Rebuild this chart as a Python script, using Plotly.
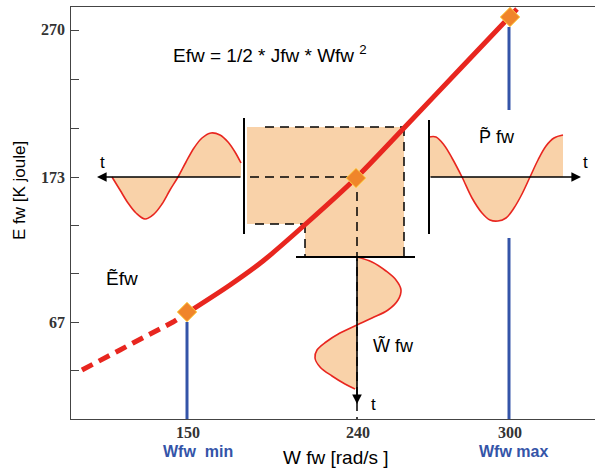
import plotly.graph_objects as go

# ---- schematic coordinates (x: horizontal position, y: vertical position, y axis reversed) ----
X0, X1 = 71, 595      # x-axis range
Y0, Y1 = 419, 7       # y-axis range (reversed)

# axis ticks
y_tick_pos = [30, 79, 128, 177, 225, 273, 322, 370]
y_tick_lab = ["270", "", "", "173", "", "", "67", ""]
x_tick_pos = [187, 357, 509]
x_tick_lab = ["150", "240", "300"]

# main energy curve  E = 1/2 J W^2
curve_dash_x = [82, 100, 120, 133, 150, 173, 187]
curve_dash_y = [370, 361, 350, 343, 334, 322, 313]
curve_x = [187, 230, 263, 308, 356, 404, 460, 517]
curve_y = [313, 285, 261, 222, 178, 128, 69, 9]

# operating points
pts_x = [187, 356, 510]
pts_y = [312, 178, 17]

# Wfw min / max markers
wmin_x, wmin_y = [187, 187], [322, 419]
wmax_top_x, wmax_top_y = [509, 509], [27, 110]
wmax_bot_x, wmax_bot_y = [509, 509], [238, 419]

# shaded projection area
area_x = [247, 404, 404, 305, 305, 247, 247]
area_y = [127, 127, 257, 257, 224, 224, 127]

# energy ripple (left)
e_x = [112, 120, 128, 136, 145, 154, 162, 170, 178, 186, 194, 202, 211, 220, 228, 235, 241]
e_y = [177, 190, 203, 213, 219, 214, 204, 190, 177, 162, 148, 138, 133, 135, 142, 152, 163]
# power ripple (right)
p_x = [429, 436, 444, 452, 462, 472, 482, 490, 498, 506, 514, 522, 530, 538, 546, 554, 563]
p_y = [137, 137, 145, 158, 177, 198, 213, 220, 221, 218, 208, 194, 177, 160, 146, 138, 135]
# speed ripple (bottom)
w_x = [357, 372, 386, 396, 401, 398, 388, 372, 357, 340, 326, 317, 315, 320, 332, 345, 355]
w_y = [257, 262, 271, 280, 290, 300, 310, 318, 325, 333, 342, 350, 358, 367, 376, 384, 389]

RED = "#e8261f"
PEACH = "#f9d2a9"
BLUE = "#3454a8"
ORANGE = "#f0852a"

fig = go.Figure()

def line(x, y, color="black", width=2, dash=None):
    fig.add_trace(go.Scatter(x=x, y=y, mode="lines", hoverinfo="skip",
                             line=dict(color=color, width=width, dash=dash)))

# shaded area
fig.add_trace(go.Scatter(x=area_x, y=area_y, mode="lines", fill="toself",
                         fillcolor=PEACH, line=dict(width=0), hoverinfo="skip"))

# ripples
fig.add_trace(go.Scatter(x=e_x + [e_x[-1], e_x[0]], y=e_y + [177, 177], mode="lines",
                         fill="toself", fillcolor=PEACH, line=dict(width=0), hoverinfo="skip"))
fig.add_trace(go.Scatter(x=p_x + [p_x[-1], p_x[0]], y=p_y + [177, 177], mode="lines",
                         fill="toself", fillcolor=PEACH, line=dict(width=0), hoverinfo="skip"))
fig.add_trace(go.Scatter(x=w_x + [357, 357], y=w_y + [w_y[-1], 257], mode="lines",
                         fill="toself", fillcolor=PEACH, line=dict(width=0), hoverinfo="skip"))
for xx, yy in [(e_x, e_y), (p_x, p_y), (w_x, w_y)]:
    fig.add_trace(go.Scatter(x=xx, y=yy, mode="lines", hoverinfo="skip",
                             line=dict(color=RED, width=1.6, shape="spline")))

# dashed projection lines
DASH = "9px,6px"
line([265, 404], [127, 127], width=1.5, dash=DASH)
line([404, 404], [127, 257], width=1.5, dash=DASH)
line([250, 350], [177, 177], width=1.5, dash=DASH)
line([357, 357], [192, 419], width=1.5, dash=DASH)
line([255, 305], [224, 224], width=1.5, dash=DASH)
line([305, 305], [224, 257], width=1.5, dash=DASH)

# solid frame lines
line([244, 244], [118, 234])
line([429, 429], [120, 234])
line([296, 415], [257, 257])

# blue limit lines
line(wmin_x, wmin_y, color=BLUE, width=3)
line(wmax_top_x, wmax_top_y, color=BLUE, width=3)
line(wmax_bot_x, wmax_bot_y, color=BLUE, width=3)

# energy curve
line(curve_dash_x, curve_dash_y, color=RED, width=5, dash="12px,7px")
fig.add_trace(go.Scatter(x=curve_x, y=curve_y, mode="lines", hoverinfo="skip",
                         line=dict(color=RED, width=5, shape="spline", smoothing=0.8)))

# operating points
fig.add_trace(go.Scatter(x=pts_x, y=pts_y, mode="markers", hoverinfo="skip", cliponaxis=False,
                         marker=dict(symbol="diamond", size=15, color=ORANGE,
                                     line=dict(color="#ffd24a", width=1))))

ann = []
def arrow(x0, y0, x1, y1):
    ann.append(dict(x=x1, y=y1, ax=x0, ay=y0, xref="x", yref="y", axref="x", ayref="y",
                    text="", showarrow=True, arrowhead=2, arrowsize=1.2, arrowwidth=1.6,
                    arrowcolor="black", standoff=0, startstandoff=0))

arrow(242, 177, 97, 177)
arrow(429, 177, 581, 177)
arrow(357, 257, 357, 404)

SANS = "Liberation Sans, Arial"
SERIF = "Liberation Serif, Times New Roman"

def text(x, y, s, size=17, color="black", xanchor="center", bold=False, angle=0, family=SANS):
    # positions given in the same (pixel-like) frame as the axes, placed via paper coords
    px = (x - X0) / (X1 - X0)
    py = (Y0 - y) / (Y0 - Y1)
    ann.append(dict(x=px, y=py, xref="paper", yref="paper", text=(f"<b>{s}</b>" if bold else s),
                    showarrow=False, font=dict(family=family, size=size, color=color),
                    xanchor=xanchor, yanchor="middle", textangle=angle))

text(102, 162, "t", size=17)
text(585, 162, "t", size=17)
text(373, 404, "t", size=17)
text(497, 136, "P\u0303 fw", size=18)
text(393, 345, "W\u0303 fw", size=18)
text(122, 278, "\u1ebcfw", size=19)
text(171, 54, "Efw = 1/2 * Jfw * Wfw <sup>2</sup>", size=19, xanchor="left")
text(19, 191, "E fw [K joule]", size=17, angle=-90)
text(336, 457, "W fw [rad/s ]", size=19)
text(198, 451, "Wfw  min", size=16, color=BLUE, bold=True)
text(513, 451, "Wfw max", size=16, color=BLUE, bold=True)

# tick labels
for pos, lab in zip(y_tick_pos, y_tick_lab):
    if lab:
        text(67, pos, lab, size=16, color="#333", xanchor="right", bold=True, family=SERIF)
for pos, lab in zip(x_tick_pos, x_tick_lab):
    text(pos + 1, 432, lab, size=16, color="#333", bold=True, family=SERIF)

fig.update_layout(
    width=595, height=468,
    margin=dict(l=71, r=0, t=7, b=49),
    paper_bgcolor="white", plot_bgcolor="white",
    showlegend=False, hovermode=False,
    annotations=ann,
    xaxis=dict(range=[X0, X1], showgrid=False, zeroline=False, showline=True,
               linecolor="#444", linewidth=1, mirror=True, ticks="",
               tickvals=x_tick_pos, ticktext=["" for _ in x_tick_lab]),
    yaxis=dict(range=[Y0, Y1], showgrid=False, zeroline=False, showline=True,
               linecolor="#444", linewidth=1, ticks="inside", ticklen=8, tickcolor="#444",
               tickvals=y_tick_pos, ticktext=["" for _ in y_tick_lab]),
)

fig.write_html("out.html")
